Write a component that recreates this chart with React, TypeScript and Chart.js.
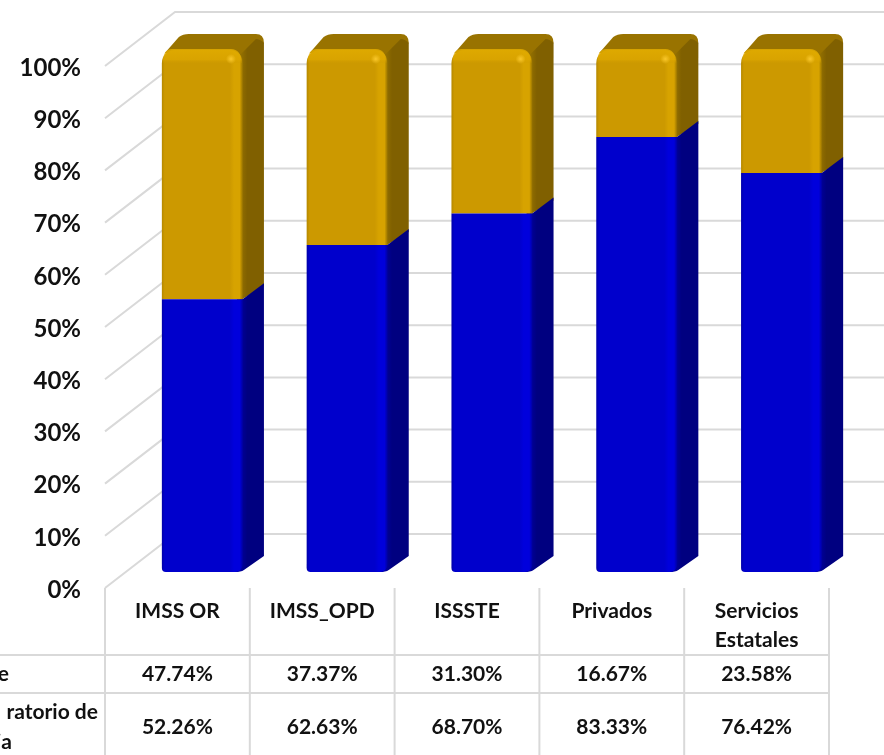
import React, { useEffect, useRef } from "react";
import { Chart, registerables } from "chart.js";

Chart.register(...registerables);

const categories = ["IMSS OR", "IMSS_OPD", "ISSSTE", "Privados", ["Servicios", "Estatales"]];
const topValues = [47.74, 37.37, 31.3, 16.67, 23.58];
const bottomValues = [52.26, 62.63, 68.7, 83.33, 76.42];
const topRowLabel = ["e"];
const bottomRowLabel = ["ratorio de", "ia"];

const FONT = "Lato, Carlito, 'Open Sans', sans-serif";
const GRID = "#d9d9d9";
const WALL_DX = 70;
const WALL_DY = -54;
const BAR_DX = 25;
const BAR_DY = -16;
const SIDE_DX = 21;
const SIDE_DY = -16;
const ROW_LINES = [655, 693];
const TABLE_BOTTOM = 755;

const BLUE = { edge: "#0000a8", main: "#0000cc", hi: "#0000dc", side: "#000080", sideNear: "#00009c" };
const GOLD = { edge: "#b58800", main: "#cc9900", hi: "#d7a300", side: "#806000", sideNear: "#937000", top: "#997300" };

function frontGradient(c: CanvasRenderingContext2D, left: number, w: number, p: any) {
  const g = c.createLinearGradient(left, 0, left + w, 0);
  g.addColorStop(0, p.edge);
  g.addColorStop(0.035, p.main);
  g.addColorStop(0.84, p.main);
  g.addColorStop(0.89, p.hi);
  g.addColorStop(0.96, p.hi);
  g.addColorStop(1, p.sideNear);
  return g;
}

function sideGradient(c: CanvasRenderingContext2D, x: number, p: any) {
  const g = c.createLinearGradient(x, 0, x + SIDE_DX, 0);
  g.addColorStop(0, p.sideNear);
  g.addColorStop(0.3, p.side);
  g.addColorStop(1, p.side);
  return g;
}

const threeDPlugin = {
  id: "threeD",
  beforeDraw(chart: any) {
    const c: CanvasRenderingContext2D = chart.ctx;
    const { chartArea: a, scales } = chart;
    c.save();
    c.fillStyle = "#ffffff";
    c.fillRect(0, 0, chart.width, chart.height);
    c.strokeStyle = GRID;
    c.lineWidth = 2;
    scales.y.ticks.forEach((t: any) => {
      const y = scales.y.getPixelForValue(t.value);
      c.beginPath();
      c.moveTo(a.left, y);
      c.lineTo(a.left + WALL_DX, y + WALL_DY);
      c.lineTo(chart.width + 10, y + WALL_DY);
      c.stroke();
    });
    const xs = categories.map((_, i) => scales.x.getPixelForValue(i));
    const half = (xs[1] - xs[0]) / 2;
    [xs[0] - half, ...xs.map((x) => x + half)].forEach((x) => {
      c.beginPath();
      c.moveTo(x, a.bottom);
      c.lineTo(x, TABLE_BOTTOM);
      c.stroke();
    });
    ROW_LINES.forEach((y) => {
      c.beginPath();
      c.moveTo(0, y);
      c.lineTo(a.right, y);
      c.stroke();
    });
    c.fillStyle = "#111111";
    c.font = `700 21px ${FONT}`;
    c.textBaseline = "middle";
    c.textAlign = "center";
    xs.forEach((x, i) => {
      c.fillText(topValues[i].toFixed(2) + "%", x, 674);
      c.fillText(bottomValues[i].toFixed(2) + "%", x, 727);
    });
    c.textAlign = "right";
    c.fillText(topRowLabel[0], 9, 674);
    c.fillText(bottomRowLabel[0], 98, 712);
    c.fillText(bottomRowLabel[1], 12, 742);
    c.restore();
  },
  beforeDatasetsDraw(chart: any) {
    const c: CanvasRenderingContext2D = chart.ctx;
    const blue = chart.getDatasetMeta(0).data;
    const gold = chart.getDatasetMeta(1).data;
    c.save();
    c.translate(BAR_DX, BAR_DY);
    blue.forEach((b: any, i: number) => {
      const g = gold[i];
      const left = b.x - b.width / 2;
      const right = b.x + b.width / 2;
      const top = g.y;
      const mid = b.y;
      const base = b.base;
      // top face
      c.fillStyle = GOLD.top;
      c.beginPath();
      c.moveTo(left + 3, top + 3);
      c.lineTo(left + SIDE_DX - 4, top + SIDE_DY + 3);
      c.quadraticCurveTo(left + SIDE_DX, top + SIDE_DY, left + SIDE_DX + 6, top + SIDE_DY);
      c.lineTo(right + SIDE_DX - 8, top + SIDE_DY);
      c.quadraticCurveTo(right + SIDE_DX, top + SIDE_DY, right + SIDE_DX, top + SIDE_DY + 9);
      c.lineTo(right, top + 12);
      c.closePath();
      c.fill();
      // gold side, running under the blue one so no seam shows
      c.fillStyle = sideGradient(c, right - 2, GOLD);
      c.beginPath();
      c.moveTo(right - 6, mid + 3);
      c.lineTo(right + SIDE_DX, mid + SIDE_DY + 3);
      c.lineTo(right + SIDE_DX, top + SIDE_DY + 9);
      c.quadraticCurveTo(right + SIDE_DX - 4, top + SIDE_DY + 5, right + SIDE_DX - 8, top + SIDE_DY + 5);
      c.lineTo(right - 6, top + 8);
      c.closePath();
      c.fill();
      // blue side
      c.fillStyle = sideGradient(c, right - 2, BLUE);
      c.beginPath();
      c.moveTo(right - 8, base);
      c.quadraticCurveTo(right - 2, base, right + 1, base - 2);
      c.lineTo(right + SIDE_DX, base + SIDE_DY);
      c.lineTo(right + SIDE_DX, mid + SIDE_DY);
      c.lineTo(right + 1, mid - 1);
      c.quadraticCurveTo(right - 2, mid + 1, right - 8, mid + 1);
      c.closePath();
      c.fill();
    });
  },
  afterDatasetsDraw(chart: any) {
    const c: CanvasRenderingContext2D = chart.ctx;
    c.restore();
    c.save();
    c.translate(BAR_DX, BAR_DY);
    chart.getDatasetMeta(1).data.forEach((g: any) => {
      const left = g.x - g.width / 2;
      const right = g.x + g.width / 2;
      const top = g.y;
      const band = c.createLinearGradient(0, top - 1, 0, top + 14);
      band.addColorStop(0, "rgba(226,172,0,0.85)");
      band.addColorStop(0.7, "rgba(222,168,0,0.7)");
      band.addColorStop(1, "rgba(204,153,0,0)");
      c.fillStyle = band;
      c.beginPath();
      c.moveTo(left + 10, top - 1);
      c.lineTo(right - 12, top - 1);
      c.quadraticCurveTo(right - 2, top - 1, right - 1, top + 13);
      c.lineTo(left + 1, top + 13);
      c.quadraticCurveTo(left + 1, top - 1, left + 10, top - 1);
      c.closePath();
      c.fill();
      const spot = c.createRadialGradient(right - 12, top + 9, 0, right - 12, top + 9, 5);
      spot.addColorStop(0, "rgba(255,205,50,0.85)");
      spot.addColorStop(1, "rgba(255,205,50,0)");
      c.fillStyle = spot;
      c.fillRect(right - 19, top + 2, 14, 14);
    });
    c.restore();
  },
};

export default function App() {
  const ref = useRef<HTMLCanvasElement>(null);
  useEffect(() => {
    document.body.style.margin = "0";
    const chart = new Chart(ref.current as HTMLCanvasElement, {
      type: "bar",
      data: {
        labels: categories as any,
        datasets: [
          {
            label: "bottom",
            data: bottomValues,
            backgroundColor: (ctx: any) => {
              const ch = ctx.chart;
              if (!ch.chartArea || !ch.scales.x) return BLUE.main;
              const w = (ch.chartArea.width / categories.length) * 0.56;
              const x = ch.scales.x.getPixelForValue(ctx.dataIndex);
              return frontGradient(ch.ctx, x - w / 2, w, BLUE);
            },
            borderRadius: { topLeft: 0, topRight: 0, bottomLeft: 4, bottomRight: 8 },
            borderSkipped: false,
            inflateAmount: 0,
          },
          {
            label: "top",
            data: topValues,
            backgroundColor: (ctx: any) => {
              const ch = ctx.chart;
              if (!ch.chartArea || !ch.scales.x) return GOLD.main;
              const w = (ch.chartArea.width / categories.length) * 0.56;
              const x = ch.scales.x.getPixelForValue(ctx.dataIndex);
              return frontGradient(ch.ctx, x - w / 2, w, GOLD);
            },
            borderRadius: { topLeft: 13, topRight: 13, bottomLeft: 0, bottomRight: 0 },
            borderSkipped: false,
            inflateAmount: 0,
          },
        ],
      },
      options: {
        animation: false,
        responsive: false,
        devicePixelRatio: 1,
        barPercentage: 0.56,
        categoryPercentage: 1,
        layout: { padding: { left: 0, right: 55, top: 66, bottom: 0 } },
        plugins: { legend: { display: false }, tooltip: { enabled: false }, title: { display: false } },
        scales: {
          x: {
            stacked: true,
            grid: { display: false },
            border: { display: false },
            afterFit: (s: any) => {
              s.height = 167;
            },
            ticks: {
              maxRotation: 0,
              autoSkip: false,
              padding: 1,
              color: "#111111",
              font: { family: FONT, weight: "700", size: 21, lineHeight: 1.38 },
            },
          },
          y: {
            stacked: true,
            min: 0,
            max: 100,
            grid: { display: false },
            border: { display: false },
            afterFit: (s: any) => {
              s.width = 105;
            },
            ticks: {
              stepSize: 10,
              padding: 16,
              labelOffset: 2,
              color: "#111111",
              font: { family: FONT, weight: "700", size: 24 },
              callback: (v: any) => v + "%",
            },
          },
        },
      } as any,
      plugins: [threeDPlugin as any],
    });
    return () => chart.destroy();
  }, []);
  return (
    <div style={{ position: "absolute", left: 0, top: 0, width: 884, height: 755, overflow: "hidden", background: "#fff" }}>
      <canvas ref={ref} width={884} height={755} style={{ display: "block" }} />
    </div>
  );
}
